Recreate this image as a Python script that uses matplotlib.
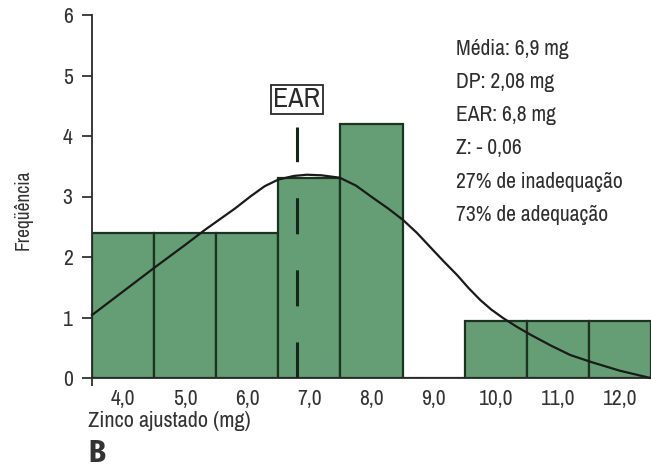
import matplotlib
matplotlib.use("Agg")
import matplotlib.pyplot as plt

plt.rcParams["font.family"] = ["Archivo Narrow", "PT Sans Narrow", "DejaVu Sans"]

# Histogram classes (mg) and frequencies
classes = [4, 5, 6, 7, 8, 9, 10, 11, 12]
tick_labels = ["4,0", "5,0", "6,0", "7,0", "8,0", "9,0", "10,0", "11,0", "12,0"]
freq = [2.4, 2.4, 2.4, 3.3, 4.2, 0, 0.95, 0.95, 0.95]

# Fitted curve, points
curve_x = [3.5, 4.0, 4.5, 5.0, 5.32, 5.8, 6.05, 6.28, 6.5, 6.75, 6.96, 7.2,
           7.49, 7.75, 8.02, 8.27, 8.51, 8.73, 8.94, 9.16, 9.38, 9.56, 9.75,
           9.93, 10.12, 10.35, 10.57, 10.9, 11.2, 11.55, 12.0, 12.49]
curve_y = [1.04, 1.43, 1.82, 2.2, 2.45, 2.8, 3.0, 3.17, 3.28, 3.34, 3.36, 3.35,
           3.31, 3.18, 2.98, 2.8, 2.61, 2.4, 2.17, 1.93, 1.7, 1.49, 1.29,
           1.13, 0.99, 0.84, 0.71, 0.53, 0.38, 0.26, 0.12, 0.0]

ear = 6.8
stats_text = ["Média: 6,9 mg", "DP: 2,08 mg", "EAR: 6,8 mg", "Z: - 0,06",
              "27% de inadequação", "73% de adequação"]

fig = plt.figure(figsize=(6.51, 4.67), dpi=100)
ax = fig.add_axes([92 / 651, 89 / 467, 559 / 651, 363 / 467])

ax.bar(classes, freq, width=1.0, color="#659e74", edgecolor="#1c3321",
       linewidth=1.6, zorder=2)
ax.plot(curve_x, curve_y, color="#1a1a1a", linewidth=1.6, zorder=3,
        clip_on=False, solid_joinstyle="round")
ax.plot([ear, ear], [0, 4.15], color="#14261a", linewidth=2.2,
        dashes=(11.8, 11.8), zorder=4)

ax.text(ear, 4.6, "EAR", ha="center", va="center", fontsize=20,
        color="#2a2a2a",
        bbox=dict(boxstyle="square,pad=0.08", fc="white", ec="#2a2a2a", lw=1.3))

for i, s in enumerate(stats_text):
    ax.text(0.652, 0.907 - i * 0.0915, s, transform=ax.transAxes,
            fontsize=15.5, color="#2e2e2e", va="center", ha="left")

ax.set_xlim(3.5, 12.5)
ax.set_ylim(0, 6)
ax.set_yticks(range(0, 7))
ax.set_xticks(classes)
ax.set_xticklabels(tick_labels)
ax.set_xticks([3.5], minor=True)
ax.tick_params(axis="x", which="major", length=0, pad=8, labelsize=15.5,
               colors="#333333")
ax.tick_params(axis="x", which="minor", length=6, width=1.3, color="#333333")
ax.tick_params(axis="y", length=7, width=1.3, pad=7, labelsize=15.5,
               colors="#333333")
for side in ["top", "right"]:
    ax.spines[side].set_visible(False)
for side in ["left", "bottom"]:
    ax.spines[side].set_linewidth(1.3)
    ax.spines[side].set_color("#2a2a2a")

fig.text(88 / 651, 1 - 421 / 467, "Zinco ajustado (mg)", fontsize=16,
         color="#333333", ha="left", va="center")
fig.text(23 / 651, 1 - 210 / 467, "Freqüência", fontsize=14, rotation=90,
         color="#333333", ha="center", va="center")
fig.text(88 / 651, 1 - 462 / 467, "B", fontsize=22, fontweight="bold",
         family=["Fira Sans Condensed", "Liberation Sans", "DejaVu Sans"],
         color="#333333", ha="left", va="baseline")

fig.savefig("out.png", dpi=100)
